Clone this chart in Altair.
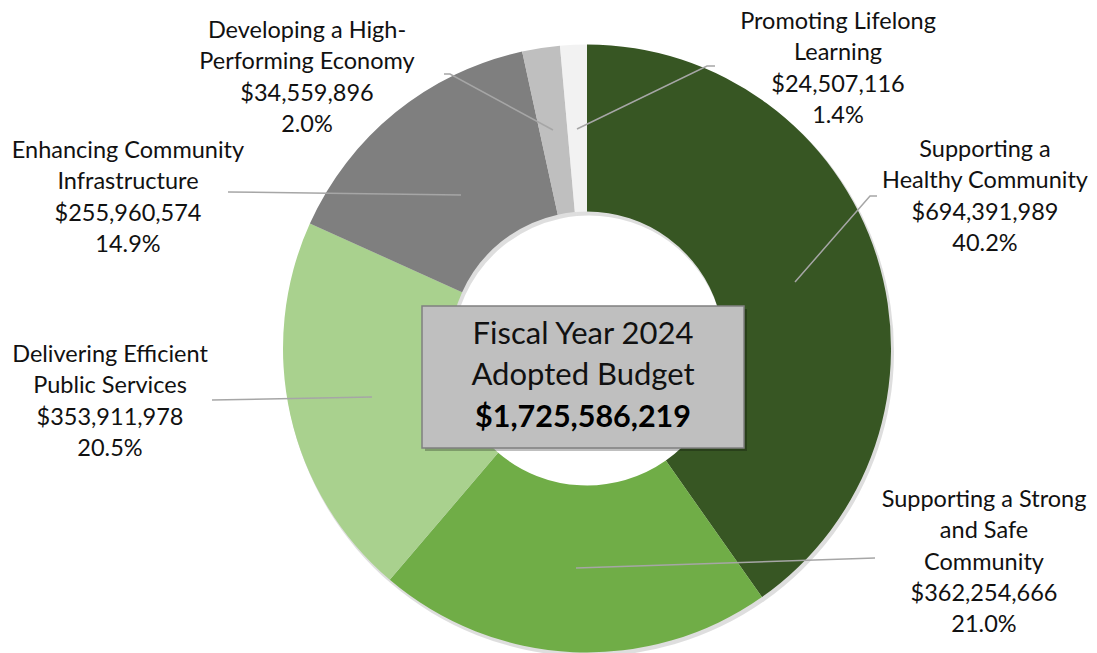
import altair as alt
import pandas as pd

# ---- data ----
categories = [
    "Supporting a Healthy Community",
    "Supporting a Strong and Safe Community",
    "Delivering Efficient Public Services",
    "Enhancing Community Infrastructure",
    "Developing a High-Performing Economy",
    "Promoting Lifelong Learning",
]
amounts = [694391989, 362254666, 353911978, 255960574, 34559896, 24507116]
amount_labels = ["$694,391,989", "$362,254,666", "$353,911,978",
                 "$255,960,574", "$34,559,896", "$24,507,116"]
pct_labels = ["40.2%", "21.0%", "20.5%", "14.9%", "2.0%", "1.4%"]
name_lines = [
    ["Supporting a", "Healthy Community"],
    ["Supporting a Strong", "and Safe", "Community"],
    ["Delivering Efficient", "Public Services"],
    ["Enhancing Community", "Infrastructure"],
    ["Developing a High-", "Performing Economy"],
    ["Promoting Lifelong", "Learning"],
]
center_lines = ["Fiscal Year 2024", "Adopted Budget"]
total_label = "$1,725,586,219"

# ---- layout (page pixel coordinates) ----
colors = ["#375623", "#70AD47", "#A9D18E", "#7F7F7F", "#BFBFBF", "#F2F2F2"]
label_x = [985, 984, 110, 128, 307, 838]
label_y = [157, 507, 362, 158, 38, 29]
leader_pts = [
    [(795, 282), (870, 196), (877, 196)],
    [(576, 568), (875, 558)],
    [(372, 397), (212, 400)],
    [(461, 195), (228, 192)],
    [(553, 130), (450, 74), (444, 74)],
    [(577, 129), (707, 66), (715, 66)],
]
CX, CY = 587, 348.5
R_OUT, R_IN = 304, 137
BOX = (422, 744, 306, 448)

W, H = 1081, 645
xs = alt.Scale(domain=[8, 8 + W], nice=False, zero=False)
ys = alt.Scale(domain=[8, 8 + H], nice=False, zero=False, reverse=True)
FONT = "Lato"

pie_df = pd.DataFrame({
    "category": categories,
    "amount": amounts,
    "idx": list(range(len(categories))),
    "cx": CX, "cy": CY,
})

theta = alt.Theta("amount:Q", stack=True)
order = alt.Order("idx:Q")
color = alt.Color("category:N", scale=alt.Scale(domain=categories, range=colors), legend=None)

shadow = alt.Chart(pie_df).mark_arc(
    outerRadius=R_OUT + 1, innerRadius=R_IN - 1, color="#000000", opacity=0.13,
    xOffset=2, yOffset=3,
).encode(
    theta=theta, order=order,
    x=alt.X("cx:Q", scale=xs, axis=None),
    y=alt.Y("cy:Q", scale=ys, axis=None),
)

pie = alt.Chart(pie_df).mark_arc(outerRadius=R_OUT, innerRadius=R_IN).encode(
    theta=theta, order=order, color=color,
    x=alt.X("cx:Q", scale=xs, axis=None),
    y=alt.Y("cy:Q", scale=ys, axis=None),
)

# leader lines
rows = []
for i, pts in enumerate(leader_pts):
    for j, (px, py) in enumerate(pts):
        rows.append({"line": i, "ord": j, "px": px, "py": py})
lead_df = pd.DataFrame(rows)
leaders = alt.Chart(lead_df).mark_line(color="#A6A6A6", strokeWidth=1.5).encode(
    x=alt.X("px:Q", scale=xs, axis=None),
    y=alt.Y("py:Q", scale=ys, axis=None),
    detail="line:N", order="ord:Q",
)

# labels
lab_df = pd.DataFrame({
    "text": ["\n".join(n + [a, p]) for n, a, p in zip(name_lines, amount_labels, pct_labels)],
    "lx": label_x, "ly": label_y,
})
labels = alt.Chart(lab_df).mark_text(
    align="center", baseline="alphabetic", lineBreak="\n", lineHeight=31.3,
    fontSize=23.5, font=FONT, color="#111111",
).encode(
    x=alt.X("lx:Q", scale=xs, axis=None),
    y=alt.Y("ly:Q", scale=ys, axis=None),
    text="text:N",
)

# center box
box_df = pd.DataFrame({"x1": [BOX[0]], "x2": [BOX[1]], "y1": [BOX[2]], "y2": [BOX[3]]})
box_shadow = alt.Chart(box_df).mark_rect(color="#000000", opacity=0.25, xOffset=3, yOffset=3,
                                         x2Offset=3, y2Offset=3).encode(
    x=alt.X("x1:Q", scale=xs, axis=None), x2="x2:Q",
    y=alt.Y("y1:Q", scale=ys, axis=None), y2="y2:Q",
)
box = alt.Chart(box_df).mark_rect(fill="#BFBFBF", stroke="#808080", strokeWidth=1.5).encode(
    x=alt.X("x1:Q", scale=xs, axis=None), x2="x2:Q",
    y=alt.Y("y1:Q", scale=ys, axis=None), y2="y2:Q",
)
ctr_df = pd.DataFrame({"t": center_lines, "tx": [583, 583], "ty": [344, 385]})
ctr = alt.Chart(ctr_df).mark_text(align="center", baseline="alphabetic", fontSize=31,
                                  font=FONT, color="#111111").encode(
    x=alt.X("tx:Q", scale=xs, axis=None),
    y=alt.Y("ty:Q", scale=ys, axis=None),
    text="t:N",
)
tot_df = pd.DataFrame({"t": [total_label], "tx": [583], "ty": [427]})
tot = alt.Chart(tot_df).mark_text(align="center", baseline="alphabetic", fontSize=30.5,
                                  font=FONT, fontWeight="bold", color="#000000").encode(
    x=alt.X("tx:Q", scale=xs, axis=None),
    y=alt.Y("ty:Q", scale=ys, axis=None),
    text="t:N",
)

chart = alt.layer(shadow, pie, leaders, labels, box_shadow, box, ctr, tot).properties(
    width=W, height=H, padding=0,
    autosize=alt.AutoSizeParams(type="none"),
).configure(
    background="white",
    view=alt.ViewConfig(strokeWidth=0, stroke="transparent"),
)

chart.save("out.html", embed_options={"renderer": "svg", "actions": False})
